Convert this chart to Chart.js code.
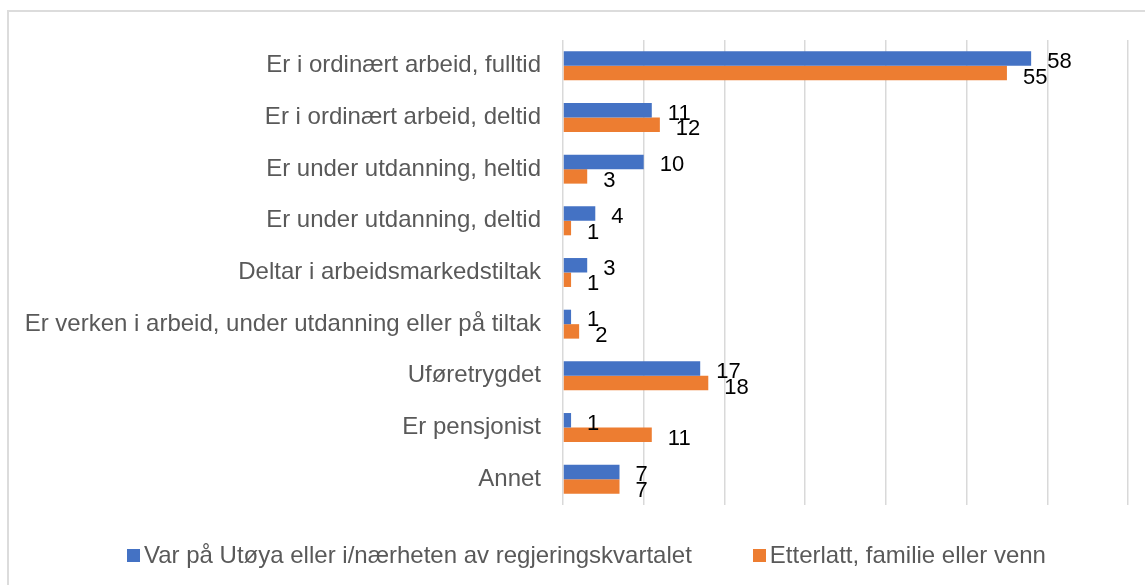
<!DOCTYPE html>
<html>
<head>
<meta charset="utf-8">
<script src="https://cdn.jsdelivr.net/npm/chart.js@4.4.1/dist/chart.umd.min.js"></script>
<style>
  html, body { margin: 0; padding: 0; background: #ffffff; }
  #wrap { position: relative; width: 1145px; height: 585px; overflow: hidden; }
  #frame { position: absolute; left: 7px; top: 10px; width: 1200px; height: 700px;
           border-left: 2px solid #dcdcdc; border-top: 2px solid #dcdcdc; box-sizing: border-box; }
  #c { position: absolute; left: 0; top: 0; }
  #legend { position: absolute; left: 127px; top: 541px; display: flex; align-items: center;
            font-family: "Liberation Sans", Arial, sans-serif; font-size: 24px; color: #595959; line-height: 28px; }
  .item { display: flex; align-items: center; margin-right: 61px; }
  .sw { width: 13px; height: 13px; margin-right: 4px; }
</style>
</head>
<body>
<div id="wrap">
  <div id="frame"></div>
  <canvas id="c" width="1145" height="585"></canvas>
  <div id="legend"></div>
</div>
<script>
const categories = [
  "Er i ordinært arbeid, fulltid",
  "Er i ordinært arbeid, deltid",
  "Er under utdanning, heltid",
  "Er under utdanning, deltid",
  "Deltar i arbeidsmarkedstiltak",
  "Er verken i arbeid, under utdanning eller på tiltak",
  "Uføretrygdet",
  "Er pensjonist",
  "Annet"
];
const seriesNames = ["Var på Utøya eller i/nærheten av regjeringskvartalet", "Etterlatt, familie eller venn"];
const utoya = [58, 11, 10, 4, 3, 1, 17, 1, 7];
const etterlatt = [55, 12, 3, 1, 1, 2, 18, 11, 7];
const colors = ["#4472C4", "#ED7D31"];
const xMax = 70;
const xStep = 10;

const FONT = '"Liberation Sans", Arial, sans-serif';

const labelPlugin = {
  id: 'valueLabels',
  afterDatasetsDraw(chart) {
    const ctx = chart.ctx;
    ctx.save();
    ctx.font = '22px ' + FONT;
    ctx.fillStyle = '#000000';
    ctx.textAlign = 'left';
    ctx.textBaseline = 'alphabetic';
    chart.data.datasets.forEach((ds, di) => {
      const meta = chart.getDatasetMeta(di);
      meta.data.forEach((el, i) => {
        ctx.fillText(String(ds.data[i]), el.x + 16, el.y + 9.5 + di);
      });
    });
    ctx.restore();
  }
};

new Chart(document.getElementById('c'), {
  type: 'bar',
  data: {
    labels: categories,
    datasets: [
      { label: seriesNames[0], data: utoya, backgroundColor: colors[0] },
      { label: seriesNames[1], data: etterlatt, backgroundColor: colors[1] }
    ]
  },
  options: {
    indexAxis: 'y',
    responsive: false,
    animation: false,
    categoryPercentage: 0.56,
    barPercentage: 1.0,
    layout: { padding: { top: 40, right: 17, bottom: 80, left: 0 } },
    plugins: { legend: { display: false }, tooltip: { enabled: false } },
    scales: {
      x: {
        min: 0, max: xMax,
        ticks: { display: false, stepSize: xStep },
        grid: { color: '#d9d9d9', lineWidth: 1.5, drawTicks: false },
        border: { display: false },
        afterFit(s) { s.height = 0; }
      },
      y: {
        grid: { display: false, drawTicks: false },
        border: { display: false },
        ticks: { color: '#595959', font: { family: FONT, size: 24 }, padding: 22 },
        afterFit(s) { s.width = 563; }
      }
    }
  },
  plugins: [labelPlugin]
});

const legend = document.getElementById('legend');
seriesNames.forEach((n, i) => {
  const it = document.createElement('div');
  it.className = 'item';
  const sw = document.createElement('div');
  sw.className = 'sw';
  sw.style.background = colors[i];
  const tx = document.createElement('span');
  tx.textContent = n;
  it.appendChild(sw); it.appendChild(tx);
  legend.appendChild(it);
});
</script>
</body>
</html>
